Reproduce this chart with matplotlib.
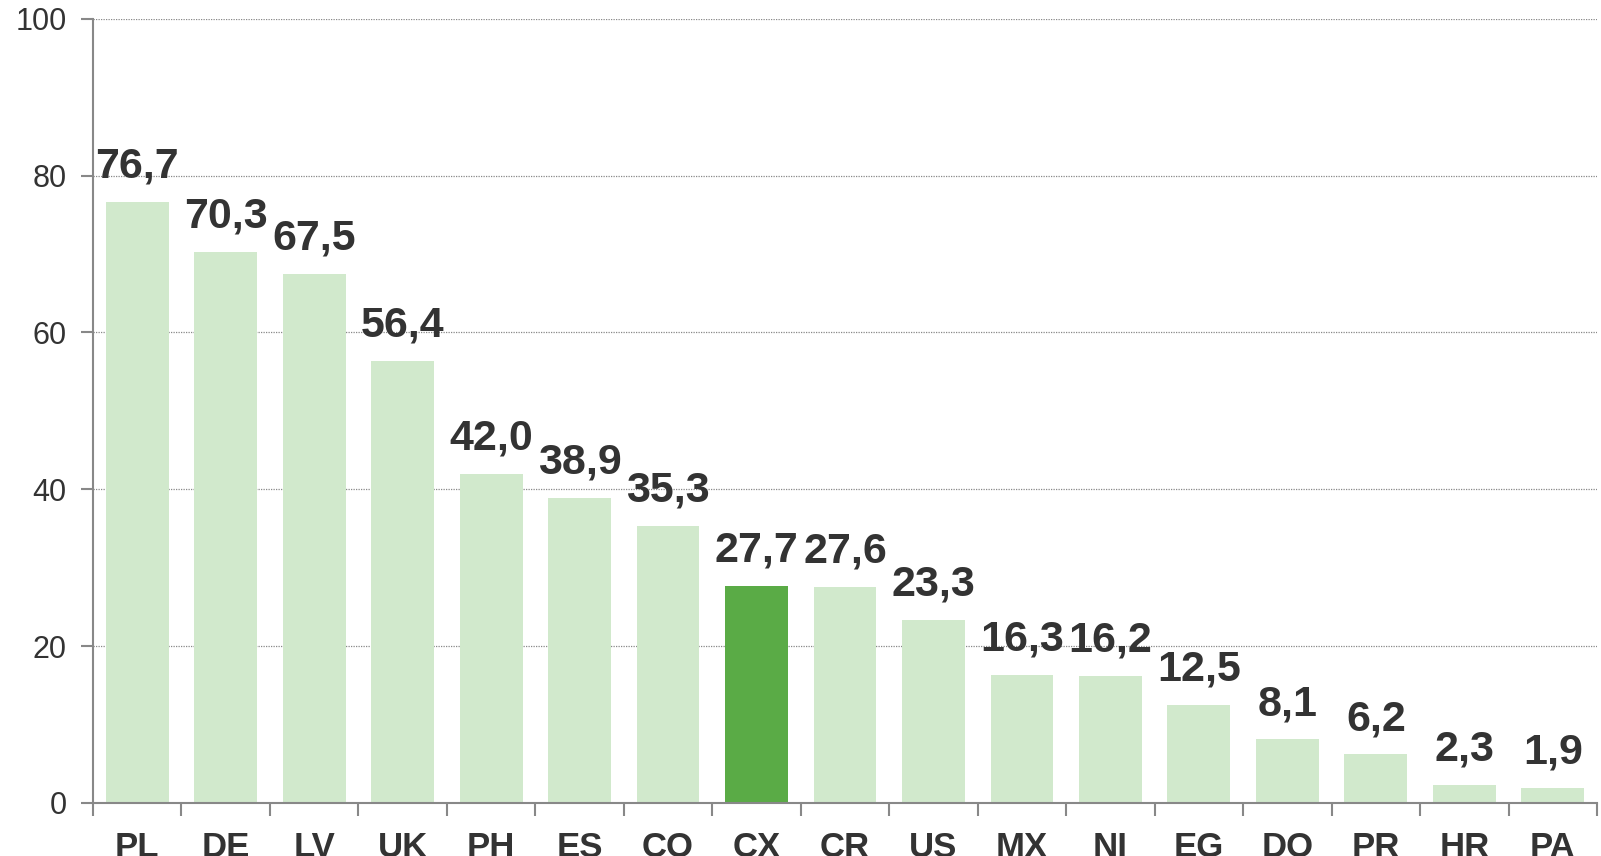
import numpy as np
import matplotlib
matplotlib.use("Agg")
import matplotlib.pyplot as plt

# country codes and values
countries = ['PL', 'DE', 'LV', 'UK', 'PH', 'ES', 'CO', 'CX', 'CR', 'US',
             'MX', 'NI', 'EG', 'DO', 'PR', 'HR', 'PA']
values = [76.7, 70.3, 67.5, 56.4, 42.0, 38.9, 35.3, 27.7, 27.6, 23.3,
          16.3, 16.2, 12.5, 8.1, 6.2, 2.3, 1.9]
highlight = 'CX'

light = '#d1e9cc'
dark = '#5aab46'
txt = '#333333'

plt.rcParams['font.family'] = ['Liberation Sans', 'DejaVu Sans']

fig = plt.figure(figsize=(16.01, 8.56), dpi=100)
ax = fig.add_axes([0.0581, 0.062, 0.9394, 0.916])

x = np.arange(len(countries))
colors = [dark if c == highlight else light for c in countries]
bars = ax.bar(x, values, width=0.71, color=colors, zorder=2)

for xi, v in zip(x, values):
    ax.annotate(f'{v:.1f}'.replace('.', ','), (xi, v), xytext=(0, 11),
                textcoords='offset points', ha='center', va='bottom',
                fontsize=31, fontweight='bold', color=txt)

ax.set_xlim(-0.5, len(countries) - 0.5)
ax.set_ylim(0, 100)
ax.set_yticks([0, 20, 40, 60, 80, 100])
ax.yaxis.grid(True, linestyle=(0, (1, 1)), color='#888888', linewidth=0.9, zorder=0)

# category boundary ticks on the x axis, labels in between
ax.set_xticks(np.arange(-0.5, len(countries)), minor=False)
ax.set_xticklabels([])
ax.set_xticks(x, minor=True)
ax.set_xticklabels(countries, minor=True, fontsize=25, fontweight='bold', color=txt)
ax.tick_params(axis='x', which='minor', length=0, pad=20)
ax.tick_params(axis='x', which='major', length=9, width=1.5, color='#888888')
ax.tick_params(axis='y', length=9, width=1.5, color='#888888', labelsize=22,
               labelcolor=txt, pad=10)

for s in ['top', 'right']:
    ax.spines[s].set_visible(False)
for s in ['left', 'bottom']:
    ax.spines[s].set_color('#888888')
    ax.spines[s].set_linewidth(1.5)

fig.savefig('out.png', dpi=100)
